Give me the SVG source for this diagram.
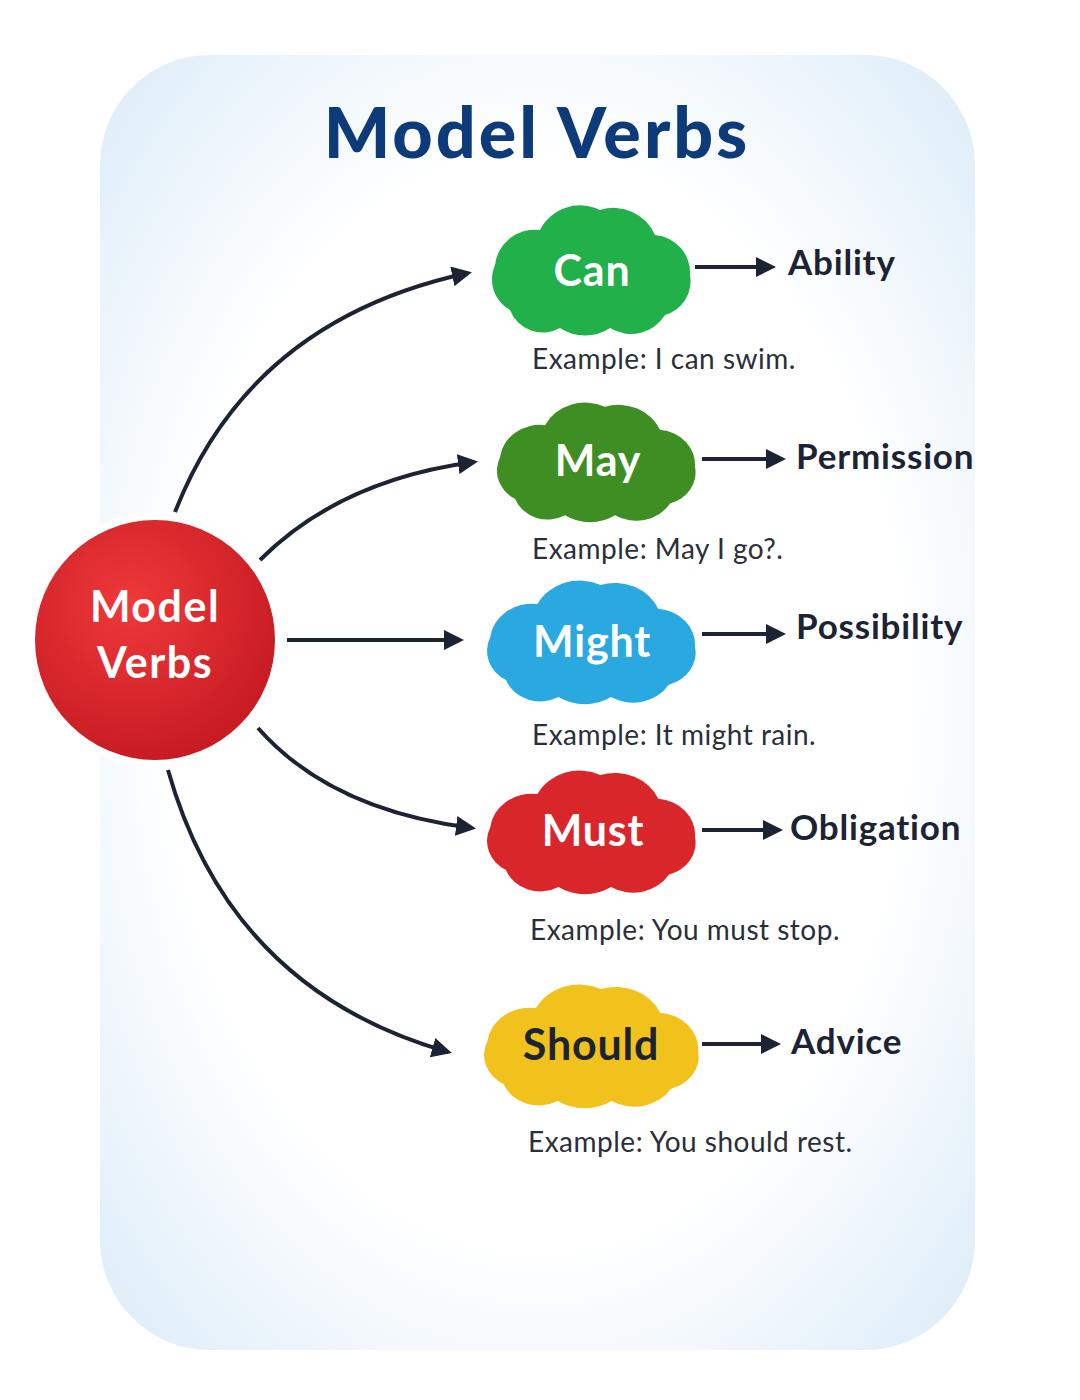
<svg xmlns="http://www.w3.org/2000/svg" xmlns:xlink="http://www.w3.org/1999/xlink" width="1080" height="1400" viewBox="0 0 1080 1400">
<defs>
<radialGradient id="bg" cx="0.5" cy="0.5" r="0.7"><stop offset="0.6" stop-color="#ffffff"/><stop offset="1" stop-color="#dcecf8"/></radialGradient>
<radialGradient id="red" cx="0.4" cy="0.35" r="0.7"><stop offset="0" stop-color="#f0393a"/><stop offset="1" stop-color="#c41a22"/></radialGradient>
<path id="cloud" d="M -80 40 A 35 35 0 0 1 -95 -5 A 40 40 0 0 1 -50 -40 A 45 45 0 0 1 10 -60 A 45 45 0 0 1 65 -35 A 38 38 0 0 1 100 5 A 35 35 0 0 1 75 45 A 40 40 0 0 1 20 58 A 45 45 0 0 1 -30 58 A 35 35 0 0 1 -80 40 Z"/>
<marker id="ah" viewBox="0 0 10 10" refX="8" refY="5" markerWidth="5" markerHeight="5" orient="auto"><path d="M0 0 L10 5 L0 10 Z" fill="#1c2333"/></marker>
<style>
.lbl{font-family:"Lato","Noto Sans",sans-serif;font-weight:bold;font-size:35px;letter-spacing:0.8px;fill:#1c2333}
.ex{font-family:"Lato","Noto Sans",sans-serif;font-size:28px;letter-spacing:0.5px;fill:#2a2f3a}
.ct{font-family:"Lato","Noto Sans",sans-serif;font-weight:bold;font-size:43px;letter-spacing:0.8px;fill:#fff;text-anchor:middle}
.con{fill:none;stroke:#1c2333;stroke-width:4;marker-end:url(#ah)}
</style>
</defs>
<rect width="1080" height="1400" fill="#fff"/>
<rect x="100" y="55" width="875" height="1295" rx="110" fill="url(#bg)"/>
<text x="537" y="158" text-anchor="middle" font-family="Lato, 'Noto Sans', sans-serif" font-weight="900" font-size="70" letter-spacing="3" fill="#0d3b7a">Model Verbs</text>
<g id="connectors">
<path class="con" d="M175 512 Q250 320 468 273"/>
<path class="con" d="M260 560 Q340 480 474 462"/>
<path class="con" d="M287 640 L460 640"/>
<path class="con" d="M258 728 Q330 810 472 828"/>
<path class="con" d="M168 770 Q230 990 448 1052"/>
<path class="con" d="M695 267 L772 267"/>
<path class="con" d="M702 459 L782 459"/>
<path class="con" d="M702 634 L782 634"/>
<path class="con" d="M702 830 L779 830"/>
<path class="con" d="M702 1044 L777 1044"/>
</g>
<g id="center">
<circle cx="155" cy="640" r="128" fill="#fff" opacity="0.9"/>
<circle cx="155" cy="640" r="120" fill="url(#red)"/>
<text x="155" y="622" class="ct" font-size="46" style="letter-spacing:1.5px">Model</text>
<text x="155" y="678" class="ct" font-size="46" style="letter-spacing:1.5px">Verbs</text>
</g>
<g id="can"><use xlink:href="#cloud" transform="translate(590,270)" fill="#22b04a"/><text x="592" y="286" class="ct">Can</text>
<text x="788" y="275" class="lbl">Ability</text><text x="532" y="369" class="ex">Example: I can swim.</text></g>
<g id="may"><use xlink:href="#cloud" transform="translate(595,462) scale(1,0.92)" fill="#3e8e23"/><text x="598" y="476" class="ct">May</text>
<text x="796" y="469" class="lbl">Permission</text><text x="532" y="559" class="ex">Example: May I go?.</text></g>
<g id="might"><use xlink:href="#cloud" transform="translate(590,642) scale(1.05,0.95)" fill="#2aa8e0"/><text x="592" y="657" class="ct">Might</text>
<text x="796" y="639" class="lbl">Possibility</text><text x="532" y="745" class="ex">Example: It might rain.</text></g>
<g id="must"><use xlink:href="#cloud" transform="translate(590,832) scale(1.05,0.95)" fill="#d9262b"/><text x="593" y="846" class="ct">Must</text>
<text x="790" y="840" class="lbl">Obligation</text><text x="530" y="940" class="ex">Example: You must stop.</text></g>
<g id="should"><use xlink:href="#cloud" transform="translate(590,1046) scale(1.08,0.95)" fill="#f2c21c"/><text x="591" y="1060" class="ct" style="fill:#1c2333">Should</text>
<text x="791" y="1054" class="lbl">Advice</text><text x="528" y="1152" class="ex">Example: You should rest.</text></g>
</svg>
